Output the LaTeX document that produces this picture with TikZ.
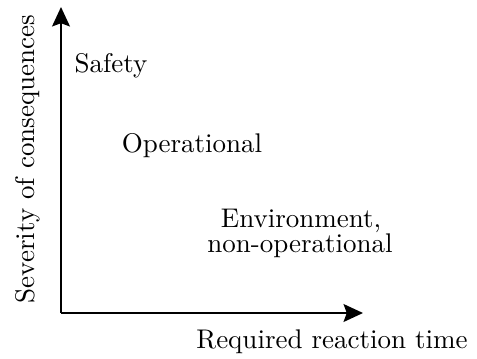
\documentclass[tikz,border=0pt]{standalone}
\usetikzlibrary{arrows.meta}
\begin{document}
\begin{tikzpicture}[x=0.3704pt,y=-0.3704pt,
  axis/.style={line width=0.8pt,-{Stealth[length=7.2pt,width=6.6pt,inset=1.2pt]}},
  lbl/.style={inner sep=0pt,anchor=base}]
\useasboundingbox (0,0) rectangle (477,358);
% axes
\coordinate (o) at (61,313);
\coordinate (ytip) at (61,7);
\coordinate (xtip) at (363,313);
\draw[axis] (o) -- (ytip);
\draw[axis] (o) -- (xtip);
% axis labels
\node[lbl] (xl) at (332,348) {Required reaction time};
\node[lbl,rotate=90] (yl) at (34,159) {Severity of consequences};
% regions
\node[lbl] (safe) at (111,72) {Safety};
\node[lbl] (oper) at (192,152) {Operational};
\node[lbl] (env1) at (301,227) {Environment,};
\node[lbl] (env2) at (300,252) {non-operational};
\end{tikzpicture}
\end{document}
